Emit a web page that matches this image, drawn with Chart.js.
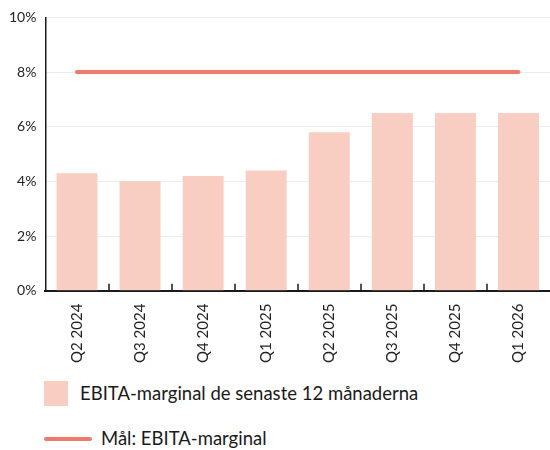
<!DOCTYPE html>
<html>
<head>
<meta charset="utf-8">
<script src="https://cdn.jsdelivr.net/npm/chart.js@4"></script>
<style>
  body { margin: 0; background: #fff; font-family: Lato, "Open Sans", sans-serif; }
  .wrap { position: relative; width: 550px; height: 450px; overflow: hidden; }
  .chart-box { position: absolute; left: 0; top: 0; width: 550px; height: 368px; }
  .legend-item { position: absolute; font-size: 18.5px; color: #1a1a1a; white-space: nowrap; }
  .swatch-bar { position: absolute; left: 44px; top: 381px; width: 24px; height: 25px; }
  .swatch-line { position: absolute; left: 44px; top: 437px; width: 48px; height: 4px; border-radius: 2px; }
</style>
</head>
<body>
<div class="wrap">
  <div class="chart-box"><canvas id="myChart"></canvas></div>
  <span class="swatch-bar"></span>
  <span class="legend-item" id="lab1" style="left:80px; top:382px;"></span>
  <span class="swatch-line"></span>
  <span class="legend-item" id="lab2" style="left:101px; top:427px;"></span>
</div>
<script>
// quarters on the x axis
var labels = ["Q2 2024", "Q3 2024", "Q4 2024", "Q1 2025", "Q2 2025", "Q3 2025", "Q4 2025", "Q1 2026"];
// EBITA margin, rolling 12 months (%)
var margin = [4.3, 4.0, 4.2, 4.4, 5.8, 6.5, 6.5, 6.5];
// target margin (%)
var target = [8, 8, 8, 8, 8, 8, 8, 8];
var yTicks = [0, 2, 4, 6, 8, 10];

var barName = "EBITA-marginal de senaste 12 månaderna";
var lineName = "Mål: EBITA-marginal";
var barColor = "#f8cec3";
var lineColor = "#ee7a6d";

document.getElementById("lab1").textContent = barName;
document.getElementById("lab2").textContent = lineName;
document.querySelector(".swatch-bar").style.background = barColor;
document.querySelector(".swatch-line").style.background = lineColor;

// small tick marks between categories, pointing up from the x axis
var innerTicks = {
  id: "innerTicks",
  afterDraw: function (chart) {
    var x = chart.scales.x;
    var ctx = chart.ctx;
    var bottom = chart.chartArea.bottom;
    ctx.save();
    ctx.strokeStyle = "#1a1a1a";
    ctx.lineWidth = 1.5;
    for (var i = 1; i < labels.length; i++) {
      var px = Math.round((x.getPixelForTick(i - 1) + x.getPixelForTick(i)) / 2);
      ctx.beginPath();
      ctx.moveTo(px, bottom - 7);
      ctx.lineTo(px, bottom);
      ctx.stroke();
    }
    ctx.restore();
  }
};

var chart = new Chart(document.getElementById("myChart").getContext("2d"), {
  data: {
    labels: labels,
    datasets: [
      {
        type: "line",
        label: lineName,
        data: target,
        borderColor: lineColor,
        borderWidth: 4,
        borderCapStyle: "round",
        pointRadius: 0,
        order: 0
      },
      {
        type: "bar",
        label: barName,
        data: margin,
        backgroundColor: barColor,
        barPercentage: 0.65,
        categoryPercentage: 1,
        order: 1
      }
    ]
  },
  options: {
    responsive: true,
    maintainAspectRatio: false,
    animation: false,
    layout: { padding: { top: 8, right: 0, left: 0, bottom: 0 } },
    plugins: { legend: { display: false }, tooltip: { enabled: false } },
    scales: {
      x: {
        grid: { display: false },
        border: { color: "#1a1a1a", width: 2 },
        ticks: {
          color: "#222",
          font: { family: "Lato", size: 15 },
          maxRotation: 90,
          minRotation: 90,
          padding: 5
        }
      },
      y: {
        min: 0,
        max: 10,
        afterBuildTicks: function (axis) {
          axis.ticks = yTicks.map(function (v) { return { value: v }; });
        },
        grid: { color: "#ececec", drawTicks: false },
        border: { color: "#1a1a1a", width: 1.5 },
        ticks: {
          color: "#222",
          font: { family: "Lato", size: 14 },
          padding: 9,
          callback: function (v) { return v + "%"; }
        }
      }
    }
  },
  plugins: [innerTicks]
});
</script>
</body>
</html>
